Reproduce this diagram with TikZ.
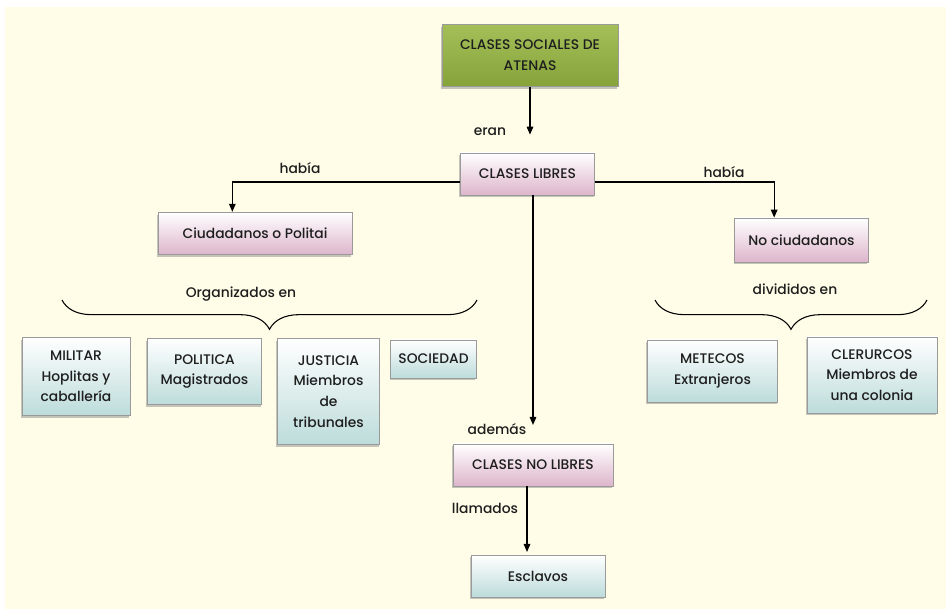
\documentclass[tikz,border=0pt]{standalone}
\usepackage{fontspec}
\setmainfont{Poppins}
\newfontfamily\mapfont{Poppins}[UprightFont=* Medium]
\usetikzlibrary{arrows.meta,shadows,decorations.pathreplacing}

\definecolor{cream}{HTML}{FFFDE8}
\definecolor{greentop}{HTML}{A4BF58}
\definecolor{greenbot}{HTML}{86A33A}
\definecolor{pinkbot}{HTML}{DDB5CB}
\definecolor{tealbot}{HTML}{BCDCDA}
\definecolor{boxline}{HTML}{9A9A9A}
\definecolor{textgray}{HTML}{1E1E1E}

\begin{document}
\begin{tikzpicture}[x=0.75pt,y=-0.75pt,
    box/.style={draw=boxline, line width=0.6pt, align=center, inner sep=2pt,
        font=\mapfont\fontsize{10.4}{15.5}\selectfont, text=textgray,
        drop shadow={shadow xshift=-1pt, shadow yshift=-1.8pt, opacity=0.45}},
    boxsize/.style 2 args={minimum width=#1, minimum height=#2},
    greenbox/.style={box, top color=greentop, bottom color=greenbot},
    pinkbox/.style={box, top color=white, bottom color=pinkbot},
    tealbox/.style={box, top color=white, bottom color=tealbot},
    linktext/.style={font=\mapfont\fontsize{10.4}{12}\selectfont, text=textgray},
    link/.style={line width=0.8pt, -{Triangle[length=6pt,width=5pt]}},
    bracket/.style={line width=0.8pt, decorate,
        decoration={brace, mirror, amplitude=22pt}}
]

    % --- Background ---
    \useasboundingbox (0,0) rectangle (946,609);
    \fill[cream] (5,7) rectangle (946,609);

    % --- Top of the map ---
    \node[greenbox, boxsize={132pt}{47pt}] (T) at (530,55.5) {CLASES SOCIALES DE\\ATENAS};
    \node[pinkbox, boxsize={101pt}{31.5pt}] (L) at (527.5,174) {CLASES LIBRES};

    % --- Second level ---
    \node[pinkbox, boxsize={145.5pt}{32pt}] (C) at (255,233.5) {Ciudadanos o Politai};
    \node[pinkbox, boxsize={100pt}{33pt}] (N) at (801.5,240) {No ciudadanos};
    \node[pinkbox, boxsize={120pt}{31.5pt}] (NL) at (533,465) {CLASES NO LIBRES};
    \node[tealbox, boxsize={100.5pt}{31.5pt}] (E) at (538,576) {Esclavos};

    % --- Citizens, organized in ---
    \node[tealbox, boxsize={81pt}{58pt}] (mil) at (76,376.5) {MILITAR\\Hoplitas y\\caballería};
    \node[tealbox, boxsize={86pt}{50pt}] (pol) at (204.5,371.5) {POLITICA\\Magistrados};
    \node[tealbox, boxsize={77pt}{80pt}] (jus) at (328.5,391.5) {JUSTICIA\\Miembros\\de\\tribunales};
    \node[tealbox, boxsize={64pt}{28.5pt}] (soc) at (433.5,359) {SOCIEDAD};

    % --- Non citizens, divided in ---
    \node[tealbox, boxsize={98pt}{46.5pt}] (met) at (712.5,371) {METECOS\\Extranjeros};
    \node[tealbox, boxsize={97.5pt}{57pt}] (cle) at (872,375) {CLERURCOS\\Miembros de\\una colonia};

    % --- Braces ---
    \draw[bracket] (62,300) -- (477,300);
    \draw[bracket] (655,300) -- (927,300);

    % --- Connectors ---
    \draw[link, shorten >=13.5pt] (T.south) -- (T.south |- L.north);
    \draw[link] ([yshift=-6pt]L.west) -| ([xshift=-17pt]C.north);
    \draw[link] ([yshift=-6pt]L.east) -| ([xshift=-20.5pt]N.north);
    \draw[link, shorten >=14pt] (NL.north |- L.south) -- (NL.north);
    \draw[link, shorten >=2pt] ([xshift=-4.5pt]NL.south) -- ([xshift=-4.5pt]NL.south |- E.north);

    % --- Connector labels ---
    \node[linktext] (eran) at (490,132) {eran};
    \node[linktext] (hab1) at (300,168) {había};
    \node[linktext] (hab2) at (724,172) {había};
    \node[linktext] (org) at (241,294) {Organizados en};
    \node[linktext] (div) at (795,289) {divididos en};
    \node[linktext] (ademas) at (497,429) {además};
    \node[linktext] (llam) at (485,508) {llamados};

\end{tikzpicture}
\end{document}
